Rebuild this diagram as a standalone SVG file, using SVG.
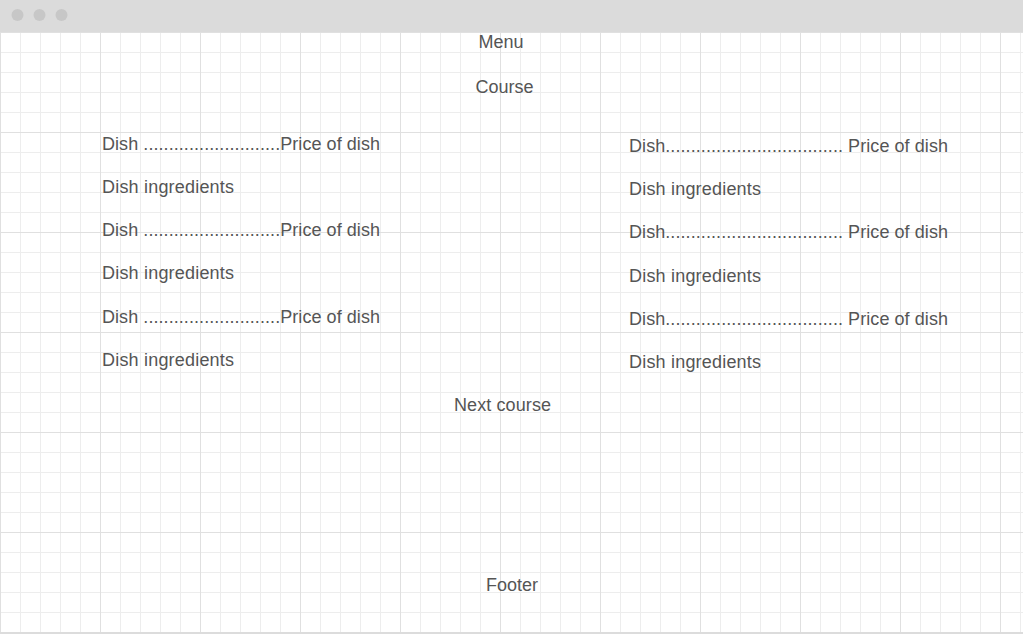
<svg xmlns="http://www.w3.org/2000/svg" width="1023" height="634" viewBox="0 0 1023 634">
  <style>
    .t { font-family: "Liberation Sans", Arial, sans-serif; font-size: 18px; fill: #555555; }
    .c { text-anchor: middle; }
  </style>
  <defs>
    <pattern id="grid" patternUnits="userSpaceOnUse" x="0" y="32" width="100" height="100">
      <rect x="20" y="0" width="1" height="100" fill="#ededed"/>
      <rect x="40" y="0" width="1" height="100" fill="#ededed"/>
      <rect x="60" y="0" width="1" height="100" fill="#ededed"/>
      <rect x="80" y="0" width="1" height="100" fill="#ededed"/>
      <rect x="0" y="20" width="100" height="1" fill="#ededed"/>
      <rect x="0" y="40" width="100" height="1" fill="#ededed"/>
      <rect x="0" y="60" width="100" height="1" fill="#ededed"/>
      <rect x="0" y="80" width="100" height="1" fill="#ededed"/>
      <rect x="0" y="0" width="1" height="100" fill="#e0e0e0"/>
      <rect x="0" y="0" width="100" height="1" fill="#e0e0e0"/>
    </pattern>
  </defs>
  <rect x="0" y="0" width="1023" height="634" fill="#ffffff"/>
  <rect x="0" y="32" width="1023" height="602" fill="url(#grid)"/>
  <rect x="0" y="632" width="1023" height="2" fill="#dcdcdc"/>
  <g id="titlebar">
    <rect x="0" y="0" width="1023" height="32" fill="#dbdbdb"/>
    <circle cx="17.5" cy="15" r="6" fill="#c7c7c7"/>
    <circle cx="39.5" cy="15" r="6" fill="#c7c7c7"/>
    <circle cx="61.5" cy="15" r="6" fill="#c7c7c7"/>
  </g>
  <g id="menu"><text class="t c" x="501" y="48">Menu</text></g>
  <g id="course"><text class="t c" x="504.5" y="93">Course</text></g>
  <g id="left-column">
    <text class="t" x="102" y="150" textLength="278">Dish ...........................Price of dish</text>
    <text class="t" x="102" y="193" textLength="132">Dish ingredients</text>
    <text class="t" x="102" y="236" textLength="278">Dish ...........................Price of dish</text>
    <text class="t" x="102" y="279" textLength="132">Dish ingredients</text>
    <text class="t" x="102" y="323" textLength="278">Dish ...........................Price of dish</text>
    <text class="t" x="102" y="366" textLength="132">Dish ingredients</text>
  </g>
  <g id="right-column">
    <text class="t" x="629" y="152" textLength="319">Dish................................... Price of dish</text>
    <text class="t" x="629" y="195" textLength="132">Dish ingredients</text>
    <text class="t" x="629" y="238" textLength="319">Dish................................... Price of dish</text>
    <text class="t" x="629" y="282" textLength="132">Dish ingredients</text>
    <text class="t" x="629" y="325" textLength="319">Dish................................... Price of dish</text>
    <text class="t" x="629" y="368" textLength="132">Dish ingredients</text>
  </g>
  <g id="next-course"><text class="t c" x="502.5" y="411" textLength="97">Next course</text></g>
  <g id="footer"><text class="t c" x="512" y="591">Footer</text></g>
  <g id="connectors"/>
</svg>
